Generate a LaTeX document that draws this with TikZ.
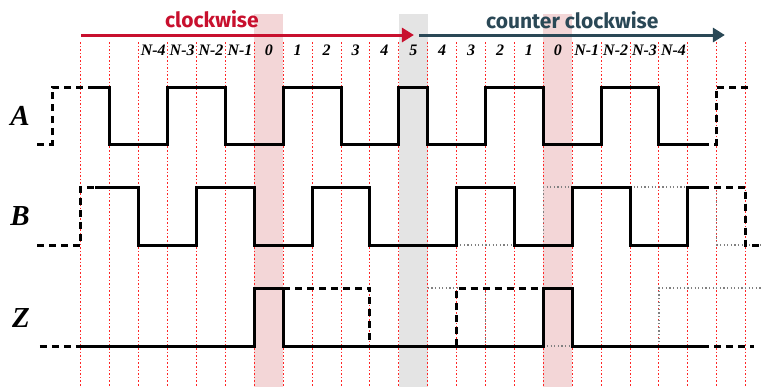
\documentclass[tikz,border=0pt]{standalone}
\usepackage{fontspec}
\setmainfont{Liberation Serif}
\newfontfamily\headfont{Fira Sans}
\usetikzlibrary{arrows.meta}
\definecolor{cwred}{RGB}{200,16,46}
\definecolor{ccwslate}{RGB}{42,72,86}
\definecolor{bandpink}{RGB}{243,214,215}
\definecolor{bandgray}{RGB}{228,228,228}

\begin{document}
\begin{tikzpicture}[x=14.45pt,y=-0.5pt]
  \tikzstyle{zeroband}=[fill=bandpink]
  \tikzstyle{turnband}=[fill=bandgray]
  \tikzstyle{gridline}=[red!85,line width=0.5pt,dash pattern=on 0.8pt off 1pt]
  \tikzstyle{wave}=[black,line width=1.5pt]
  \tikzstyle{wavedash}=[wave,dash pattern=on 3.5pt off 2.5pt]
  \tikzstyle{ghost}=[gray,line width=0.6pt,dash pattern=on 0.6pt off 1.2pt]
  \tikzstyle{dirarrow}=[line width=1.5pt,-{Triangle[length=6pt,width=7pt]}]
  \tikzstyle{headtext}=[font=\headfont\bfseries\fontsize{10.5}{12}\selectfont,anchor=base]
  \tikzstyle{numlabel}=[font=\bfseries\itshape\fontsize{8}{9}\selectfont,anchor=base,inner sep=0pt]
  \tikzstyle{siglabel}=[font=\bfseries\itshape\fontsize{14.5}{16}\selectfont,anchor=base,inner sep=0pt]

  \useasboundingbox (-2.8028,0) rectangle (23.599,387);

  % position 0 and turning point
  \fill[zeroband] (6,14) rectangle (7,387);
  \fill[zeroband] (16,14) rectangle (17,387);
  \fill[turnband] (11,14) rectangle (12,387);

  \foreach \i in {0,...,23}
    \draw[gridline] (\i,42) -- (\i,387);

  % direction arrows
  \coordinate (cwstart) at (0,35);
  \coordinate (cwend) at (11.52,35);
  \coordinate (ccwstart) at (11.7,35);
  \coordinate (ccwend) at (22.28,35);
  \draw[dirarrow,cwred] (cwstart) -- (cwend);
  \draw[dirarrow,ccwslate] (ccwstart) -- (ccwend);
  \node[headtext,text=cwred] (cwlabel) at (4.53,27) {clockwise};
  \node[headtext,text=ccwslate] (ccwlabel) at (17.0,28) {counter clockwise};

  \foreach \lab [count=\k from 2] in {N-4,N-3,N-2,N-1,0,1,2,3,4,5,4,3,2,1,0,N-1,N-2,N-3,N-4}
    \node[numlabel] (num\k) at (\k+0.5,55) {\lab};

  \node[siglabel] (sigA) at (-2.11,125) {A};
  \node[siglabel] (sigB) at (-2.11,225) {B};
  \node[siglabel] (sigZ) at (-2.08,327) {Z};

  % channel A
  \draw[wavedash] (-1.52,144) -- (-1,144) -- (-1,87) -- (0.5,87);
  \draw[wave] (0.5,87) -- (1,87) -- (1,144) -- (3,144) -- (3,87) -- (5,87) -- (5,144) -- (7,144) -- (7,87) -- (9,87) -- (9,144) -- (11,144) -- (11,87) -- (12,87) -- (12,144) -- (14,144) -- (14,87) -- (16,87) -- (16,144) -- (18,144) -- (18,87) -- (20,87) -- (20,144) -- (21.5,144);
  \draw[wavedash] (21.5,144) -- (22,144) -- (22,87) -- (23.25,87);

  % channel B
  \draw[ghost] (13,245) -- (15,245);
  \draw[ghost] (16,245) -- (16,187) -- (17,187);
  \draw[ghost] (19,187) -- (21,187);
  \draw[ghost] (22,187) -- (22,245) -- (23.6,245);
  \draw[wavedash] (-1.52,245) -- (0,245) -- (0,187) -- (0.5,187);
  \draw[wave] (0.5,187) -- (2,187) -- (2,245) -- (4,245) -- (4,187) -- (6,187) -- (6,245) -- (8,245) -- (8,187) -- (10,187) -- (10,245) -- (13,245) -- (13,187) -- (15,187) -- (15,245) -- (17,245) -- (17,187) -- (19,187) -- (19,245) -- (21,245) -- (21,187) -- (21.5,187);
  \draw[wavedash] (21.5,187) -- (23,187) -- (23,245) -- (23.5,245);

  % channel Z
  \draw[ghost] (12,288) -- (13,288);
  \draw[ghost] (14,288) -- (14,346);
  \draw[ghost] (16,346) -- (17,346);
  \draw[ghost] (20,346) -- (20,288) -- (23.6,288);
  \draw[wavedash] (-1.42,346) -- (0,346);
  \draw[wave] (0,346) -- (6,346) -- (6,288) -- (7,288) -- (7,346) -- (16,346) -- (16,288) -- (17,288) -- (17,346) -- (21.5,346);
  \draw[wavedash] (21.5,346) -- (23.3,346);
  \draw[wavedash] (7,288) -- (10,288) -- (10,346);
  \draw[wavedash] (13,346) -- (13,288) -- (16,288);
\end{tikzpicture}
\end{document}
